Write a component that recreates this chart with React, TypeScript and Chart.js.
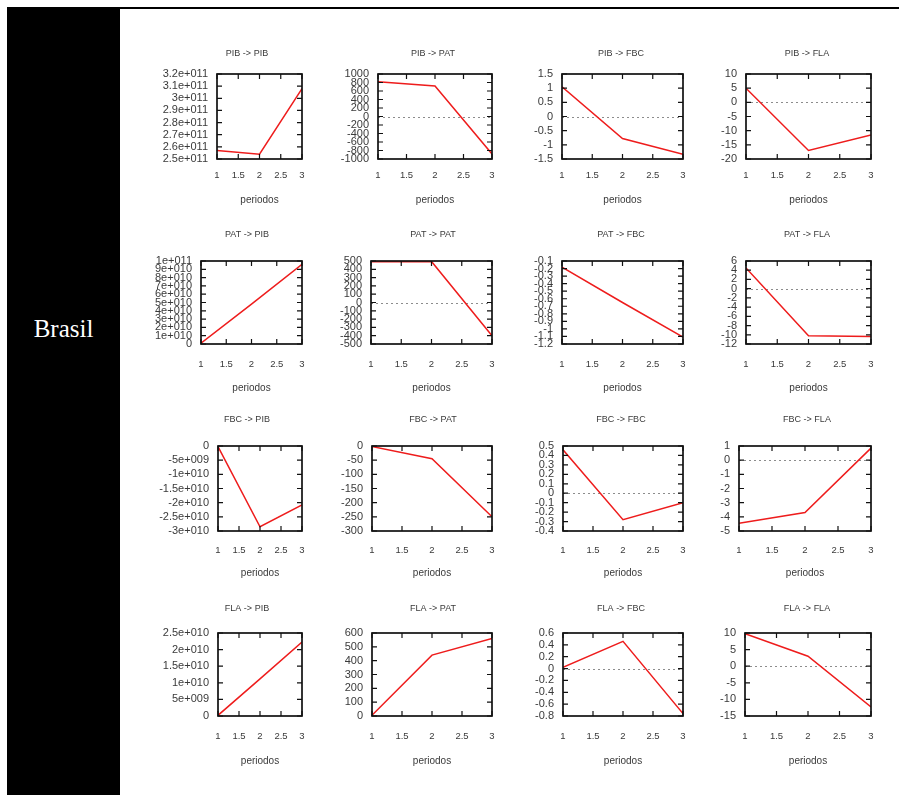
import React, { useEffect, useRef } from "react";
import { Chart, registerables } from "chart.js";

Chart.register(...registerables);

// ---------- data ----------
const periods = [1, 2, 3];
const xTickLabels = ["1", "1.5", "2", "2.5", "3"];
const xAxisTitle = "periodos";
const rowLabel = "Brasil";

const titles = [
  "PIB -> PIB", "PIB -> PAT", "PIB -> FBC", "PIB -> FLA",
  "PAT -> PIB", "PAT -> PAT", "PAT -> FBC", "PAT -> FLA",
  "FBC -> PIB", "FBC -> PAT", "FBC -> FBC", "FBC -> FLA",
  "FLA -> PIB", "FLA -> PAT", "FLA -> FBC", "FLA -> FLA",
];

const PIB_PIB = [2.57e11, 2.54e11, 3.08e11];
const PIB_PAT = [820, 720, -880];
const PIB_FBC = [1.05, -0.78, -1.33];
const PIB_FLA = [5, -17, -11.5];
const PAT_PIB = [0.1e10, 4.8e10, 9.6e10];
const PAT_PAT = [490, 495, -400];
const PAT_FBC = [-0.18, -0.65, -1.11];
const PAT_FLA = [4.5, -10.2, -10.4];
const FBC_PIB = [-0.02e10, -2.85e10, -2.08e10];
const FBC_PAT = [-2, -45, -250];
const FBC_FBC = [0.46, -0.28, -0.1];
const FBC_FLA = [-4.45, -3.7, 0.85];
const FLA_PIB = [0.02e10, 1.12e10, 2.23e10];
const FLA_PAT = [5, 440, 560];
const FLA_FBC = [0.02, 0.46, -0.76];
const FLA_FLA = [9.8, 3, -12.3];

const yT_PIB_PIB = ["3.2e+011", "3.1e+011", "3e+011", "2.9e+011", "2.8e+011", "2.7e+011", "2.6e+011", "2.5e+011"];
const yT_PIB_PAT = ["1000", "800", "600", "400", "200", "0", "-200", "-400", "-600", "-800", "-1000"];
const yT_PIB_FBC = ["1.5", "1", "0.5", "0", "-0.5", "-1", "-1.5"];
const yT_PIB_FLA = ["10", "5", "0", "-5", "-10", "-15", "-20"];
const yT_PAT_PIB = ["1e+011", "9e+010", "8e+010", "7e+010", "6e+010", "5e+010", "4e+010", "3e+010", "2e+010", "1e+010", "0"];
const yT_PAT_PAT = ["500", "400", "300", "200", "100", "0", "-100", "-200", "-300", "-400", "-500"];
const yT_PAT_FBC = ["-0.1", "-0.2", "-0.3", "-0.4", "-0.5", "-0.6", "-0.7", "-0.8", "-0.9", "-1", "-1.1", "-1.2"];
const yT_PAT_FLA = ["6", "4", "2", "0", "-2", "-4", "-6", "-8", "-10", "-12"];
const yT_FBC_PIB = ["0", "-5e+009", "-1e+010", "-1.5e+010", "-2e+010", "-2.5e+010", "-3e+010"];
const yT_FBC_PAT = ["0", "-50", "-100", "-150", "-200", "-250", "-300"];
const yT_FBC_FBC = ["0.5", "0.4", "0.3", "0.2", "0.1", "0", "-0.1", "-0.2", "-0.3", "-0.4"];
const yT_FBC_FLA = ["1", "0", "-1", "-2", "-3", "-4", "-5"];
const yT_FLA_PIB = ["2.5e+010", "2e+010", "1.5e+010", "1e+010", "5e+009", "0"];
const yT_FLA_PAT = ["600", "500", "400", "300", "200", "100", "0"];
const yT_FLA_FBC = ["0.6", "0.4", "0.2", "0", "-0.2", "-0.4", "-0.6", "-0.8"];
const yT_FLA_FLA = ["10", "5", "0", "-5", "-10", "-15"];

const seriesList = [
  PIB_PIB, PIB_PAT, PIB_FBC, PIB_FLA,
  PAT_PIB, PAT_PAT, PAT_FBC, PAT_FLA,
  FBC_PIB, FBC_PAT, FBC_FBC, FBC_FLA,
  FLA_PIB, FLA_PAT, FLA_FBC, FLA_FLA,
];
const yTickList = [
  yT_PIB_PIB, yT_PIB_PAT, yT_PIB_FBC, yT_PIB_FLA,
  yT_PAT_PIB, yT_PAT_PAT, yT_PAT_FBC, yT_PAT_FLA,
  yT_FBC_PIB, yT_FBC_PAT, yT_FBC_FBC, yT_FBC_FLA,
  yT_FLA_PIB, yT_FLA_PAT, yT_FLA_FBC, yT_FLA_FLA,
];

// ---------- layout (pixels) ----------
const plotLefts = [
  [217, 378, 562, 746],
  [201, 371, 562, 746],
  [218, 372, 563, 739],
  [218, 372, 563, 745],
];
const plotRights = [302, 492, 683, 871];
const plotTops = [74, 261, 446, 633];
const plotBottoms = [159, 344, 531, 716];
const titleYs = [54, 235, 420, 609];
const titleXs = [247, 433, 621, 807];
const canvasLefts = [140, 320, 505, 690];
const tickDy = [16, 20, 19, 20];
const labelDy = [41, 44, 42, 45];

const FONT = '"Liberation Sans", Arial, sans-serif';
const TXT = "#3a3a3a";
const TICK_FONT = 9.5;
const YTICK_FONT = 11;
const TITLE_FONT = 9;
const AXT_FONT = 10;

const framePlugin = {
  id: "gnuframe",
  beforeDatasetsDraw(chart: any) {
    const { ctx, chartArea: a } = chart;
    const y = chart.scales.y;
    if (y.min < 0 && y.max > 0) {
      const py = Math.round(y.getPixelForValue(0)) + 0.5;
      ctx.save();
      ctx.strokeStyle = "#8c8c8c";
      ctx.lineWidth = 1;
      ctx.setLineDash([2, 3]);
      ctx.beginPath();
      ctx.moveTo(a.left, py);
      ctx.lineTo(a.right, py);
      ctx.stroke();
      ctx.restore();
    }
  },
  afterDatasetsDraw(chart: any) {
    const { ctx, chartArea: a } = chart;
    const x = chart.scales.x;
    const y = chart.scales.y;
    const tl = 5;
    ctx.save();
    ctx.strokeStyle = "#111";
    ctx.lineWidth = 1.7;
    ctx.strokeRect(a.left, a.top, a.right - a.left, a.bottom - a.top);
    ctx.lineWidth = 1.2;
    ctx.beginPath();
    for (const t of y.ticks) {
      const py = y.getPixelForValue(t.value);
      ctx.moveTo(a.left, py);
      ctx.lineTo(a.left + tl, py);
      ctx.moveTo(a.right, py);
      ctx.lineTo(a.right - tl, py);
    }
    for (const t of x.ticks) {
      const px = x.getPixelForValue(t.value);
      ctx.moveTo(px, a.bottom);
      ctx.lineTo(px, a.bottom - tl);
      ctx.moveTo(px, a.top);
      ctx.lineTo(px, a.top + tl);
    }
    ctx.stroke();
    ctx.restore();
  },
};

function Panel({ idx }: { idx: number }) {
  const ref = useRef<HTMLCanvasElement | null>(null);
  const r = Math.floor(idx / 4);
  const c = idx % 4;
  const plotL = plotLefts[r][c];
  const plotR = plotRights[c];
  const plotT = plotTops[r];
  const plotB = plotBottoms[r];
  const Lc = canvasLefts[c];
  const tx = titleXs[c];
  // right spacer so that the full-width title is centred at tx
  const spacer = Math.max(0, 2 * tx - Lc - plotR);
  const Wc = plotR + spacer - Lc;
  const yW = plotL - Lc;
  const titleLH = TITLE_FONT * 1.2;
  const Tr = titleYs[r] - 10;
  const tpTop = titleYs[r] - Tr - titleLH / 2;
  const tpBottom = plotT - titleYs[r] - titleLH / 2;
  const Hx = labelDy[r] + (AXT_FONT * 1.2) / 2;
  const xPad = tickDy[r] - (TICK_FONT * 1.2) / 2;
  const Hc = plotB + Hx - Tr;

  useEffect(() => {
    if (!ref.current) return;
    const labels = yTickList[idx];
    const vals = labels.map((l) => parseFloat(l));
    const sorted = vals.slice().sort((a, b) => a - b);
    const ymin = sorted[0];
    const ymax = sorted[sorted.length - 1];
    const xVals = xTickLabels.map((l) => parseFloat(l));
    const values = seriesList[idx];
    const chart = new Chart(ref.current, {
      type: "line",
      data: {
        datasets: [
          {
            data: periods.map((p, i) => ({ x: p, y: values[i] })),
            borderColor: "rgb(238,28,28)",
            borderWidth: 1.5,
            pointRadius: 0,
            fill: false,
            tension: 0,
          },
        ],
      },
      options: {
        animation: false,
        responsive: false,
        maintainAspectRatio: false,
        devicePixelRatio: 1,
        events: [],
        layout: { padding: 0 },
        plugins: {
          legend: { display: false },
          tooltip: { enabled: false },
          title: {
            display: true,
            text: titles[idx],
            color: TXT,
            font: { family: FONT, size: TITLE_FONT, weight: "normal" },
            padding: { top: tpTop, bottom: tpBottom },
          },
        },
        scales: {
          x: {
            type: "linear",
            min: 1,
            max: 3,
            grid: { display: false, drawTicks: false },
            border: { display: false },
            afterBuildTicks: (s: any) => {
              s.ticks = xVals.map((v) => ({ value: v }));
            },
            afterFit: (s: any) => {
              s.height = Hx;
            },
            ticks: {
              autoSkip: false,
              maxRotation: 0,
              padding: xPad,
              color: TXT,
              font: { family: FONT, size: TICK_FONT },
              callback: (v: any) => xTickLabels[xVals.indexOf(Number(v))] ?? "",
            },
            title: {
              display: true,
              text: xAxisTitle,
              color: TXT,
              font: { family: FONT, size: AXT_FONT },
              padding: 0,
            },
          },
          y: {
            type: "linear",
            position: "left",
            min: ymin,
            max: ymax,
            grid: { display: false, drawTicks: false },
            border: { display: false },
            afterBuildTicks: (s: any) => {
              s.ticks = sorted.map((v) => ({ value: v }));
            },
            afterFit: (s: any) => {
              s.width = yW;
            },
            ticks: {
              autoSkip: false,
              padding: 9,
              color: TXT,
              font: { family: FONT, size: YTICK_FONT },
              callback: (v: any) => labels[vals.indexOf(Number(v))] ?? "",
            },
          },
          spacer: {
            type: "linear",
            position: "right",
            display: true,
            grid: { display: false, drawTicks: false },
            border: { display: false },
            ticks: { display: false },
            afterFit: (s: any) => {
              s.width = spacer;
            },
          },
        },
      } as any,
      plugins: [framePlugin],
    });
    return () => chart.destroy();
  }, [idx]);

  return (
    <canvas
      ref={ref}
      width={Wc}
      height={Hc}
      style={{ position: "absolute", left: Lc, top: Tr, width: Wc, height: Hc }}
    />
  );
}

export default function App() {
  return (
    <div
      style={{
        position: "absolute",
        left: 0,
        top: 0,
        width: 899,
        height: 795,
        background: "#fff",
        overflow: "hidden",
      }}
    >
      <div style={{ position: "absolute", left: 7, top: 7, width: 892, height: 2, background: "#000" }} />
      <div style={{ position: "absolute", left: 7, top: 7, width: 113, height: 788, background: "#000" }} />
      <div
        style={{
          position: "absolute",
          left: 7,
          top: 315,
          width: 113,
          textAlign: "center",
          color: "#fff",
          fontFamily: '"Liberation Serif", "Times New Roman", serif',
          fontSize: 25,
        }}
      >
        {rowLabel}
      </div>
      {titles.map((_, i) => (
        <Panel key={i} idx={i} />
      ))}
    </div>
  );
}
